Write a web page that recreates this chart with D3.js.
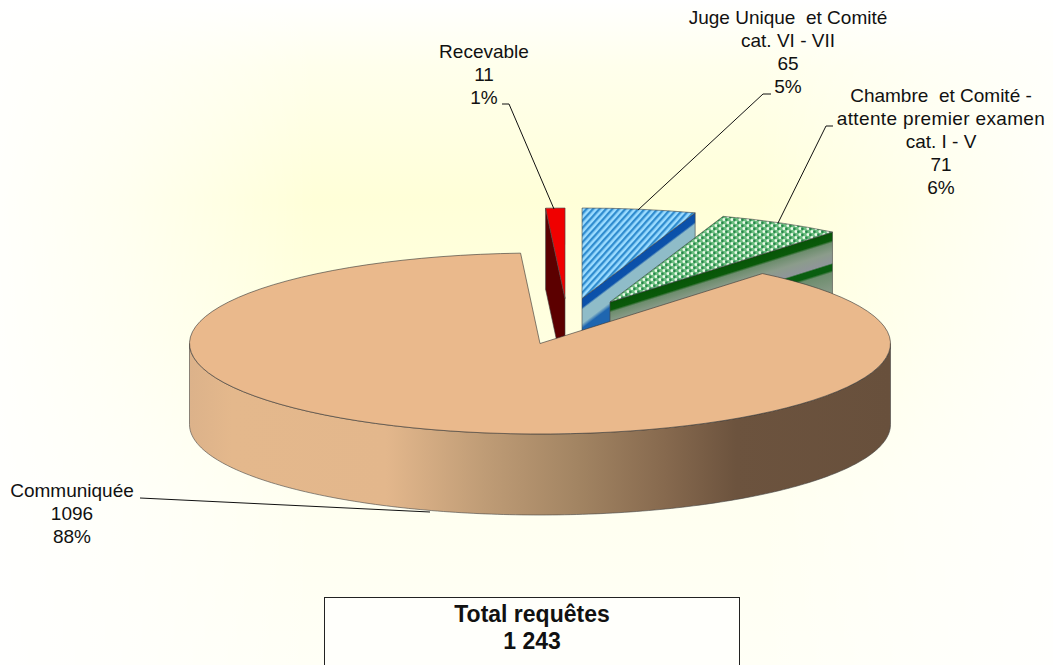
<!DOCTYPE html>
<html><head><meta charset="utf-8">
<script src="https://cdn.jsdelivr.net/npm/d3@7"></script>
<style>
html,body{margin:0;padding:0;background:#fff;overflow:hidden}
text{font-family:"Liberation Sans",Arial,sans-serif;fill:#111;white-space:pre}
</style></head><body>
<script>
// --- data
const categories = ["Communiquée","Recevable","Juge Unique et Comité","Chambre et Comité"];
const values = [1096,11,65,71];
const percents = ["88%","1%","5%","6%"];
const labelNames = [
  ["Communiquée"],
  ["Recevable"],
  ["Juge Unique  et Comité","cat. VI - VII"],
  ["Chambre  et Comité -","attente premier examen","cat. I - V"]
];
const totalLines = ["Total requêtes","1 243"];

// --- layout
const W=1053,H=665, rx=350.5, ry=90.5, depth=81;
const centres = [[540,343.5],[565,298.5],[582,298.5],[610,302]];
const labelAnchors = [[72,497],[484,58],[788,24],[941,102]];
const leaders = [
  [[140,498],[430,512]],
  [[502,104],[509,104],[554,209]],
  [[771,94],[763,94],[638,210]],
  [[833,126],[826,126],[778,223]]
];
const tops = ["#eab98c","#f00000","url(#stripes)","url(#dots)"];
const toRad = d3.scaleLinear().domain([0,360]).range([0,2*Math.PI]);

const svg=d3.select("body").append("svg").attr("width",W).attr("height",H).style("display","block");
const defs=svg.append("defs");

// background glow: vertical tint, faded to the sides
const bgV=defs.append("linearGradient").attr("id","bgV").attr("x1",0).attr("y1",0).attr("x2",0).attr("y2",1);
[[0,"#ffffff"],[.1,"#ffffec"],[.3,"#ffffd8"],[.5,"#ffffe0"],[.75,"#fffff0"],[1,"#fffff6"]]
  .forEach(s=>bgV.append("stop").attr("offset",s[0]).attr("stop-color",s[1]));
const bgH=defs.append("linearGradient").attr("id","bgH").attr("x1",0).attr("y1",0).attr("x2",1).attr("y2",0);
[[0,.9],[.12,.6],[.3,0],[.72,0],[.9,.55],[1,.8]]
  .forEach(s=>bgH.append("stop").attr("offset",s[0]).attr("stop-color","#fff").attr("stop-opacity",s[1]));
svg.append("rect").attr("width",W).attr("height",H).attr("fill","url(#bgV)");
svg.append("rect").attr("width",W).attr("height",H).attr("fill","url(#bgH)");

// patterns (the slice tops are drawn in a y-squashed space, so the patterns undo that squash)
const unsquash=`scale(1,${rx/ry})`;
const st=defs.append("pattern").attr("id","stripes").attr("patternUnits","userSpaceOnUse")
  .attr("width",6).attr("height",4.8).attr("patternTransform",unsquash+" rotate(-48)");
st.append("rect").attr("width",6).attr("height",4.8).attr("fill","#9cdcff");
st.append("rect").attr("width",6).attr("height",2.3).attr("fill","#2f8ccf");
const dt=defs.append("pattern").attr("id","dots").attr("patternUnits","userSpaceOnUse")
  .attr("width",8).attr("height",6).attr("patternTransform",unsquash);
dt.append("rect").attr("width",8).attr("height",6).attr("fill","#6cbf80");
[[2,1.5,"#eefaea"],[6,4.5,"#eefaea"]].forEach(d=>dt.append("circle").attr("cx",d[0]).attr("cy",d[1]).attr("r",1.5).attr("fill",d[2]));
[[4.4,1.8,"#27874a"],[0.4,4.8,"#27874a"],[8.4,4.8,"#27874a"]].forEach(d=>dt.append("circle").attr("cx",d[0]).attr("cy",d[1]).attr("r",1.3).attr("fill",d[2]));

// pie
const arcs=d3.pie().sort(null).value(d=>d).startAngle(toRad(39.4)).endAngle(toRad(399.4))(values);
const arc=d3.arc().innerRadius(0).outerRadius(rx);
const rim=(c,a,dy=0)=>[c[0]+rx*Math.sin(a),c[1]-ry*Math.cos(a)+dy];

function wallGradient(id,c,a,stops){
  const p=rim(c,a), ex=p[0]-c[0], ey=p[1]-c[1], L=Math.hypot(ex,ey);
  let nx=-ey/L, ny=ex/L; if(ny<0){nx=-nx;ny=-ny;}
  const proj=depth*ny;
  const g=defs.append("linearGradient").attr("id",id).attr("gradientUnits","userSpaceOnUse")
    .attr("x1",c[0]).attr("y1",c[1]).attr("x2",c[0]+nx*proj).attr("y2",c[1]+ny*proj);
  stops.forEach(s=>g.append("stop").attr("offset",s[0]).attr("stop-color",s[1]));
}
const stroke="#444";
const q=(pts)=>d3.line()(pts)+"Z";

// exploded slices: cut face then top
function slice(i,wallAngle,wallFill){
  const c=centres[i], g=svg.append("g").attr("class","slice");
  const p=rim(c,wallAngle);
  g.append("path").attr("d",q([p,c,[c[0],c[1]+depth],[p[0],p[1]+depth]]))
    .attr("fill",wallFill).attr("stroke",stroke).attr("stroke-width",.6);
  g.append("path").attr("transform",`translate(${c[0]},${c[1]}) scale(1,${ry/rx})`)
    .attr("d",arc(arcs[i])).attr("fill",tops[i])
    .attr("stroke",stroke).attr("stroke-width",.6).attr("vector-effect","non-scaling-stroke");
}
wallGradient("wallBlue",centres[2],arcs[2].endAngle,[[0,"#0a50aa"],[.11,"#0c52aa"],[.14,"#8fbcc8"],[.31,"#8fbcc8"],[.37,"#1f66b0"],[1,"#1f66b0"]]);
wallGradient("wallGreen",centres[3],arcs[3].endAngle,[[0,"#075507"],[.1,"#0a5a0a"],[.13,"#6d8d6d"],[.25,"#8b9c8b"],[.38,"#90959a"],[.4,"#0a5e10"],[.47,"#0a5e10"],[.5,"#6d8d6d"],[.76,"#8b9c8b"],[1,"#808a80"]]);
slice(1,arcs[1].startAngle,"#5c0000");
slice(2,arcs[2].endAngle,"url(#wallBlue)");
slice(3,arcs[3].endAngle,"url(#wallGreen)");

// main slice outer wall
const wg=defs.append("linearGradient").attr("id","wall").attr("gradientUnits","userSpaceOnUse")
  .attr("x1",190).attr("y1",0).attr("x2",890).attr("y2",0);
[[0,"#dcb28a"],[.06,"#e4b88c"],[.28,"#e3b78c"],[.42,"#bf9c76"],[.55,"#a38563"],[.68,"#86694e"],[.78,"#6c533e"],[1,"#68503c"]]
  .forEach(s=>wg.append("stop").attr("offset",s[0]).attr("stop-color",s[1]));
const c0=centres[0];
const angs=d3.range(0,181).map(d=>toRad(90+d));
const wallPts=angs.map(a=>rim(c0,a)).concat(angs.slice().reverse().map(a=>rim(c0,a,depth)));
svg.append("path").attr("d",q(wallPts)).attr("fill","url(#wall)").attr("stroke",stroke).attr("stroke-width",.6);
svg.append("path").attr("transform",`translate(${c0[0]},${c0[1]}) scale(1,${ry/rx})`)
  .attr("d",arc(arcs[0])).attr("fill",tops[0])
  .attr("stroke","#333").attr("stroke-width",.6).attr("vector-effect","non-scaling-stroke");

// leader lines
svg.append("g").selectAll("path").data(leaders).join("path")
  .attr("d",d=>d3.line()(d)).attr("fill","none").attr("stroke","#111").attr("stroke-width",1);

// labels
const lh=23;
categories.forEach((c,i)=>{
  const lines=labelNames[i].concat([String(values[i]),percents[i]]);
  const t=svg.append("text").attr("text-anchor","middle").attr("font-size",19);
  lines.forEach((l,j)=>t.append("tspan").attr("x",labelAnchors[i][0]).attr("y",labelAnchors[i][1]+j*lh)
    .attr("letter-spacing",l.length>21&&i===3?0.35:null).text(l));
});

// total box
svg.append("rect").attr("x",324.5).attr("y",597.5).attr("width",415).attr("height",90)
  .attr("fill","#fffffb").attr("stroke","#222").attr("stroke-width",1);
totalLines.forEach((l,j)=>svg.append("text").attr("x",532).attr("y",622+j*27)
  .attr("text-anchor","middle").attr("font-size",23).attr("font-weight","bold").text(l));
</script>
</body></html>
